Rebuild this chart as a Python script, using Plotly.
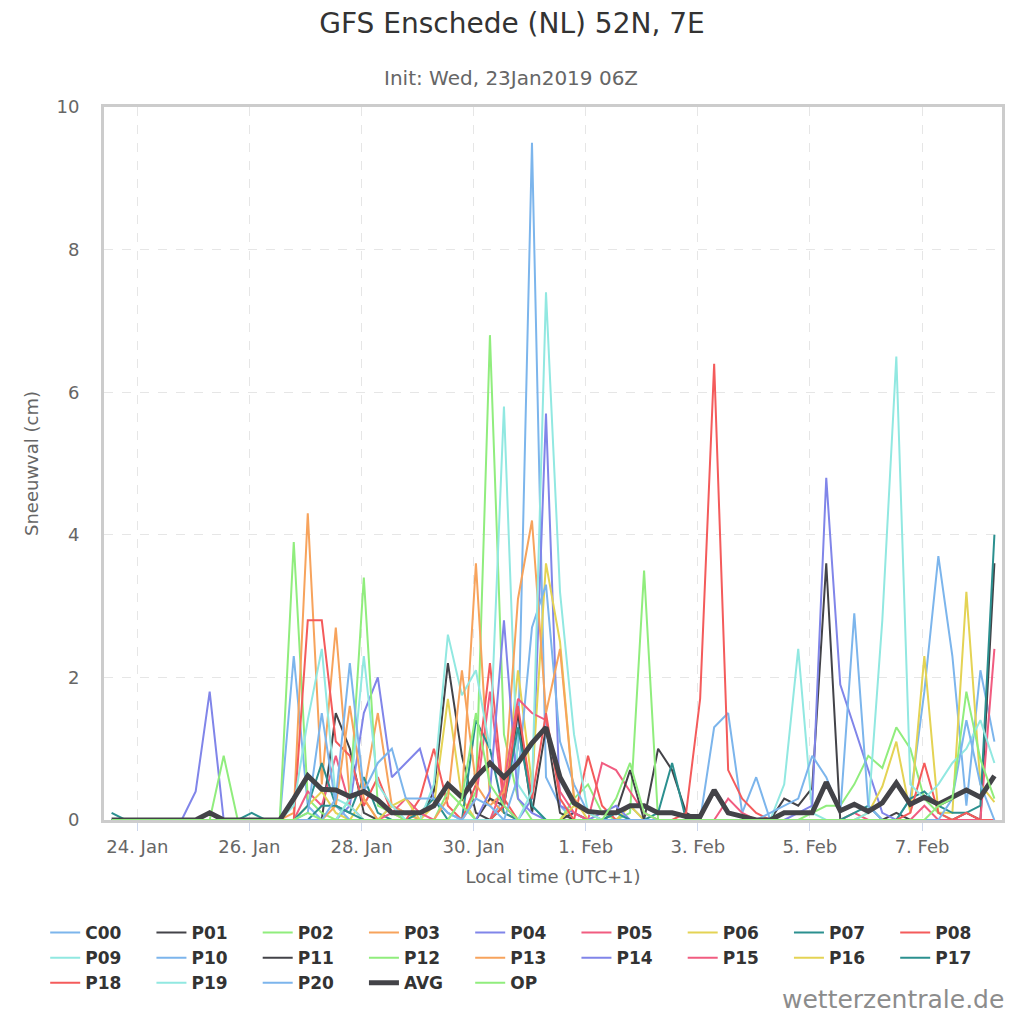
import pandas as pd
import plotly.graph_objects as go

# 6-hourly forecast steps, local time (UTC+1), init 23 Jan 2019 06Z
times = pd.date_range("2019-01-23 13:00", periods=64, freq="6h")

tick_vals = ["2019-01-24", "2019-01-26", "2019-01-28", "2019-01-30",
             "2019-02-01", "2019-02-03", "2019-02-05", "2019-02-07"]
tick_text = ["24. Jan", "26. Jan", "28. Jan", "30. Jan",
             "1. Feb", "3. Feb", "5. Feb", "7. Feb"]

# snowfall (cm) per member
C00 = [0, 0, 0, 0, 0, 0, 0, 0, 0, 0, 0, 0, 0, 2.3, 0.2, 0,
       0, 0, 0, 0, 0.2, 0.1, 0, 0, 0, 0, 0, 0, 0.3, 1.0, 9.5, 0.6,
       0.2, 0, 0, 0, 0.1, 0.2, 0, 0, 0, 0, 0, 1.3, 1.5, 0.1, 0.6, 0,
       0, 0, 0, 0, 0, 0, 0, 0, 0, 0, 0, 0, 0, 0, 0, 0]
P01 = [0, 0, 0, 0, 0, 0, 0, 0, 0, 0, 0, 0, 0, 0, 0, 0,
       1.5, 1.0, 0.1, 0, 0, 0, 0, 0.4, 2.2, 0.9, 0.1, 0, 0, 0, 0, 0,
       0, 0.1, 0, 0, 0, 0, 0, 1.0, 0.7, 0.1, 0, 0, 0, 0, 0, 0,
       0.3, 0.2, 0.45, 3.6, 0, 0, 0, 0, 0.1, 0, 0, 0, 0, 0, 0, 0]
P02 = [0, 0, 0, 0, 0, 0, 0, 0, 0, 0, 0, 0, 0, 3.9, 0.3, 0.1,
       0, 0, 0, 0, 0, 0, 0, 0, 0, 0, 0.4, 6.8, 1.2, 0.3, 0, 0,
       0, 0.3, 0.5, 0.1, 0, 0.1, 3.5, 0, 0, 0, 0, 0, 0, 0, 0, 0,
       0, 0, 0, 0, 0, 0, 0, 0, 0, 0, 0, 0, 0, 0, 0, 0]
P03 = [0, 0, 0, 0, 0, 0, 0, 0, 0, 0, 0, 0, 0, 0.1, 4.3, 0.5,
       2.7, 0.3, 0.4, 1.5, 0.2, 0.1, 0, 0, 0, 0.3, 3.6, 0.3, 0.1, 0, 0, 0,
       0, 0, 0, 0, 0, 0, 0, 0, 0, 0, 0, 0, 0, 0, 0, 0,
       0, 0, 0, 0, 0, 0, 0, 0, 0, 0, 0, 0, 0, 0, 0, 0]
P04 = [0, 0, 0, 0, 0, 0, 0.4, 1.8, 0, 0, 0, 0, 0, 0, 0, 0,
       0, 0.2, 1.5, 2.0, 0.6, 0.8, 1.0, 0.3, 0.1, 0, 0, 0, 0, 0, 0.3, 5.7,
       0.2, 0.1, 0, 0, 0, 0, 0, 0, 0, 0, 0, 0, 0, 0, 0, 0,
       0, 0, 0, 0, 0, 0, 0, 0, 0, 0, 0, 0, 0, 0, 0, 0]
P05 = [0, 0, 0, 0, 0, 0, 0, 0, 0, 0, 0, 0, 0, 0, 0.4, 0.2,
       0.9, 0.2, 0, 0, 0, 0, 0, 0, 0, 0, 0.3, 1.8, 0.2, 0, 0, 0,
       0, 0, 0, 0.8, 0.7, 0.4, 0.1, 0, 0, 0, 0, 0, 0.3, 0.1, 0, 0,
       0, 0, 0, 0, 0, 0, 0, 0, 0, 0, 0, 0, 0, 0, 0, 0]
P06 = [0, 0, 0, 0, 0, 0, 0, 0, 0, 0, 0, 0, 0, 0, 0.2, 0.4,
       0.1, 0, 0.3, 0, 0, 0, 0, 0.2, 1.7, 0.3, 0, 0, 0.2, 2.1, 0.5, 3.6,
       2.5, 0.3, 0, 0, 0, 0.2, 0, 0, 0, 0, 0, 0, 0, 0, 0, 0,
       0, 0, 0, 0, 0, 0, 0, 0, 0, 0, 0, 0, 0, 0, 0, 0]
P07 = [0.1, 0, 0, 0, 0, 0, 0, 0, 0, 0, 0.1, 0, 0, 0, 0.2, 0.8,
       0.2, 0.1, 0.6, 0.1, 0, 0, 0.1, 0.3, 0, 0, 1.4, 1.0, 0.1, 0, 0, 0,
       0, 0, 0, 0, 0, 0, 0, 0.1, 0.8, 0, 0, 0, 0, 0, 0, 0,
       0, 0, 0, 0, 0, 0, 0, 0, 0, 0, 0, 0, 0, 0, 0, 0]
P08 = [0, 0, 0, 0, 0, 0, 0, 0, 0, 0, 0, 0, 0, 0, 2.8, 2.8,
       1.1, 0.9, 0.2, 0.6, 0.1, 0, 0.3, 1.0, 0.2, 0, 0.5, 2.2, 0.3, 0, 0, 0,
       0, 0, 0.9, 0.2, 0, 0, 0, 0, 0, 0, 0, 0, 0, 0, 0, 0,
       0, 0, 0, 0, 0, 0, 0, 0, 0, 0, 0, 0, 0, 0, 0, 0]
P09 = [0, 0, 0, 0, 0, 0, 0, 0, 0, 0, 0, 0, 0, 0.2, 1.4, 2.4,
       0.3, 0.2, 0, 0, 0, 0, 0, 0.5, 2.6, 1.75, 2.1, 1.0, 5.8, 0.5, 0.2, 0,
       0, 0, 0, 0, 0, 0, 0, 0, 0, 0, 0, 0, 0, 0, 0, 0,
       0.5, 2.4, 0.1, 0, 0, 0, 0, 0, 0, 0, 0, 0, 0, 0, 0, 0]
P10 = [0, 0, 0, 0, 0, 0, 0, 0, 0, 0, 0, 0, 0, 0, 0.1, 1.5,
       0.2, 0, 0, 0, 0, 0, 0, 0, 0, 0, 0, 0, 0, 0.6, 2.7, 3.3,
       1.1, 0.5, 0.1, 0, 0, 0, 0, 0, 0, 0, 0, 0, 0, 0, 0, 0,
       0, 0, 0, 0, 0, 0, 0, 0, 0, 0.3, 1.8, 3.7, 2.3, 0.2, 2.1, 1.1]
P11 = [0, 0, 0, 0, 0, 0, 0, 0, 0, 0, 0, 0, 0, 0, 0, 0,
       0, 0, 0, 0, 0, 0, 0, 0, 0, 0, 0, 0.3, 0.2, 1.5, 0.1, 1.3,
       0.1, 0, 0, 0, 0.1, 0.7, 0, 0, 0, 0, 0, 0, 0, 0, 0, 0,
       0, 0, 0, 0, 0, 0, 0, 0, 0, 0, 0, 0, 0, 0.1, 0, 3.6]
P12 = [0, 0, 0, 0, 0, 0, 0, 0, 0.9, 0, 0, 0, 0, 0, 0, 0,
       0, 0.3, 3.4, 0.2, 0.1, 0, 0, 0, 0.4, 0.2, 0, 0, 0, 0, 0, 0,
       0, 0, 0, 0, 0, 0, 0, 0, 0, 0, 0, 0, 0, 0, 0, 0,
       0, 0, 0.1, 0.2, 0.2, 0.5, 0.9, 0.73, 1.3, 1.0, 0.3, 0.1, 0, 0, 0, 0]
P13 = [0, 0, 0, 0, 0, 0, 0, 0, 0, 0, 0, 0, 0, 0, 0, 0,
       0.2, 1.6, 0.3, 0, 0, 0, 0, 0, 0.3, 2.1, 0.5, 0.2, 0.4, 3.1, 4.2, 1.5,
       2.4, 0.3, 0.1, 0, 0, 0, 0, 0, 0, 0, 0, 0, 0, 0, 0, 0,
       0, 0, 0, 0, 0, 0, 0, 0, 0, 0, 0, 0, 0, 0, 0, 0]
P14 = [0, 0, 0, 0, 0, 0, 0, 0, 0, 0, 0, 0, 0, 0, 0, 0,
       0, 0, 0, 0, 0, 0, 0, 0, 0, 0, 0, 0.4, 2.8, 0.3, 0.1, 0,
       0, 0, 0, 0.1, 0.2, 0, 0, 0, 0, 0, 0, 0, 0, 0, 0, 0,
       0, 0.1, 0.2, 4.8, 1.9, 1.3, 0.7, 0.1, 0, 0, 0, 0, 0, 0, 0, 0]
P15 = [0, 0, 0, 0, 0, 0, 0, 0, 0, 0, 0, 0, 0, 0, 0, 0,
       0, 0, 0, 0, 0.1, 0.3, 0.1, 0, 0, 0, 0, 0, 0.5, 1.7, 1.5, 1.4,
       0.4, 0.1, 0, 0, 0, 0, 0, 0, 0, 0, 0, 0, 0, 0, 0, 0,
       0, 0, 0, 0, 0, 0.1, 0, 0, 0, 0, 0.2, 0, 0, 0, 0, 2.4]
P16 = [0, 0, 0, 0, 0, 0, 0, 0, 0, 0, 0, 0, 0, 0, 0, 0,
       0, 0, 0, 0, 0.2, 0.3, 0, 0, 0, 0, 0, 0, 0, 0, 0, 0,
       0, 0.2, 0.1, 0, 0, 0, 0, 0, 0, 0, 0, 0, 0, 0, 0, 0,
       0, 0, 0, 0, 0, 0, 0.1, 0.47, 1.1, 0.1, 2.3, 0.1, 0.1, 3.2, 0.5, 0.25]
P17 = [0, 0, 0, 0, 0, 0, 0, 0, 0, 0, 0, 0, 0, 0, 0, 0.2,
       0.2, 0.1, 0, 0, 0, 0, 0, 0, 0, 0, 0, 0, 0.2, 1.3, 0.2, 0,
       0, 0, 0, 0, 0.1, 0, 0, 0, 0, 0, 0, 0, 0, 0, 0, 0,
       0, 0, 0, 0, 0, 0.1, 0.2, 0, 0, 0.3, 0.4, 0.2, 0.1, 0.1, 0.2, 4.0]
P18 = [0, 0, 0, 0, 0, 0, 0, 0, 0, 0, 0, 0, 0, 0, 0, 0,
       0, 0, 0, 0, 0, 0, 0, 0, 0, 0, 0, 0, 0.2, 1.6, 0.3, 1.5,
       0.3, 0, 0, 0, 0, 0, 0, 0, 0, 0.1, 1.7, 6.4, 0.7, 0.3, 0.1, 0,
       0, 0, 0, 0, 0, 0, 0, 0, 0, 0.1, 0.8, 0.1, 0, 0.1, 0, 0]
P19 = [0, 0, 0, 0, 0, 0, 0, 0, 0, 0, 0, 0, 0, 0, 0, 0,
       0, 0.3, 2.3, 0.5, 0.2, 0, 0, 0, 0, 0, 0, 0, 0, 0, 0.4, 7.4,
       3.2, 1.2, 0.1, 0, 0, 0, 0, 0, 0, 0, 0, 0, 0, 0, 0, 0,
       0, 0, 0, 0, 0, 0, 0.1, 2.8, 6.5, 0.5, 0.3, 0.5, 0.8, 1.0, 1.4, 0.8]
P20 = [0, 0, 0, 0, 0, 0, 0, 0, 0, 0, 0, 0, 0, 0, 0, 0,
       0.3, 2.2, 0.4, 0.8, 1.0, 0.3, 0.3, 0.3, 0.1, 0, 0.3, 0.2, 0, 0, 0, 0,
       0, 0, 0, 0, 0, 0, 0, 0, 0, 0, 0, 0, 0, 0, 0, 0.1,
       0.2, 0.3, 0.9, 0.6, 0.1, 2.9, 0.2, 0, 0, 0, 0, 0, 0.3, 1.4, 0.5, 0]
AVG = [0, 0, 0, 0, 0, 0, 0, 0.1, 0, 0, 0, 0, 0, 0.3, 0.62, 0.43,
       0.42, 0.33, 0.4, 0.28, 0.1, 0.1, 0.1, 0.2, 0.5, 0.32, 0.6, 0.8, 0.6, 0.8, 1.08, 1.3,
       0.6, 0.24, 0.12, 0.1, 0.1, 0.2, 0.2, 0.1, 0.1, 0.05, 0.05, 0.42, 0.1, 0.05, 0, 0,
       0.1, 0.1, 0.1, 0.53, 0.13, 0.22, 0.12, 0.24, 0.52, 0.22, 0.32, 0.22, 0.32, 0.42, 0.32, 0.62]
OP = [0, 0, 0, 0, 0, 0, 0, 0, 0, 0, 0, 0, 0, 0, 0.1, 0,
      0, 0, 0, 0, 0, 0, 0, 0, 0, 0.3, 1.5, 0.5, 0.2, 0, 0, 0,
      0, 0, 0, 0, 0.3, 0.8, 0.1, 0, 0, 0, 0, 0, 0, 0, 0, 0,
      0, 0, 0, 0, 0, 0, 0, 0, 0, 0, 0, 0.2, 0.3, 1.8, 0.85, 0.3]

members = {
    "C00": C00, "P01": P01, "P02": P02, "P03": P03, "P04": P04, "P05": P05,
    "P06": P06, "P07": P07, "P08": P08, "P09": P09, "P10": P10, "P11": P11,
    "P12": P12, "P13": P13, "P14": P14, "P15": P15, "P16": P16, "P17": P17,
    "P18": P18, "P19": P19, "P20": P20, "AVG": AVG, "OP": OP,
}

# highcharts default colour cycle
palette = ["#7cb5ec", "#434348", "#90ed7d", "#f7a35c", "#8085e9",
           "#f15c80", "#e4d354", "#2b908f", "#f45b5b", "#91e8e1"]

FONT = "DejaVu Sans, sans-serif"

# page body adds 8px, so the figure is drawn 1008 wide/high
W = H = 1008
PL, PR, PT, PB = 96, 997, 99, 812   # plot area in figure pixels
PW, PH = PR - PL, PB - PT

fig = go.Figure()
for i, (name, vals) in enumerate(members.items()):
    fig.add_trace(go.Scatter(
        x=times, y=vals, name=name, mode="lines",
        line=dict(color=palette[i % 10], width=5 if name == "AVG" else 2),
    ))

fig.update_layout(
    width=W, height=H,
    paper_bgcolor="white", plot_bgcolor="white",
    margin=dict(l=PL, r=W - PR, t=PT, b=H - PB),
    font=dict(family=FONT, color="#666666"),
    title=dict(text="GFS Enschede (NL) 52N, 7E", x=0.5, xanchor="center",
               y=1 - 5 / H, yanchor="top",
               font=dict(size=28, color="#333333")),
    showlegend=True,
    legend=dict(orientation="h", x=(37 - PL) / PW, xanchor="left",
                y=-(907 - PB) / PH, yanchor="top",
                entrywidth=61.25, itemwidth=30, tracegroupgap=0,
                font=dict(size=17, color="#333333", weight="bold"),
                bgcolor="rgba(0,0,0,0)"),
    annotations=[
        dict(text="Init: Wed, 23Jan2019 06Z", xref="paper", yref="paper",
             x=(504 - PL) / PW, y=1 + (PT - 70) / PH, showarrow=False,
             xanchor="center", yanchor="middle",
             font=dict(size=20, color="#666666")),
        dict(text="wetterzentrale.de", xref="paper", yref="paper",
             x=1 + 4 / PW, y=-(991 - PB) / PH, showarrow=False,
             xanchor="right", yanchor="middle",
             font=dict(size=25, color="#8c8c8c")),
    ],
)

fig.update_xaxes(
    type="date", range=["2019-01-23 09:45", "2019-02-08 10:15"],
    tickvals=tick_vals, ticktext=tick_text,
    tickfont=dict(size=18, color="#666666"),
    ticks="outside", ticklen=8, tickcolor="#ccd6eb",
    showgrid=True, gridcolor="#e6e6e6", griddash="dash", gridwidth=1,
    showline=True, linecolor="#cccccc", linewidth=3, mirror=True,
    zeroline=False,
    title=dict(text="Local time (UTC+1)", standoff=15,
               font=dict(size=18, color="#666666")),
)
fig.update_yaxes(
    range=[0, 10], dtick=2,
    tickfont=dict(size=18, color="#666666"), ticklabelstandoff=18,
    showgrid=True, gridcolor="#e6e6e6", griddash="dash", gridwidth=1,
    showline=True, linecolor="#cccccc", linewidth=3, mirror=True,
    zeroline=False,
    title=dict(text="Sneeuwval (cm)", standoff=14,
               font=dict(size=18, color="#666666")),
)

fig.write_html("out.html")
